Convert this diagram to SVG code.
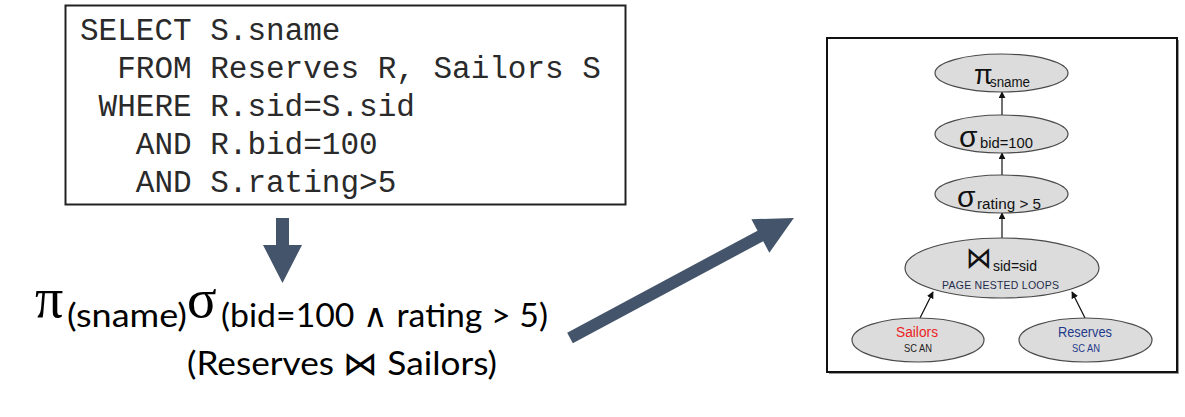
<svg xmlns="http://www.w3.org/2000/svg" width="1185" height="417" viewBox="0 0 1185 417">
<defs>
<style>
.sql{font-family:"Liberation Mono","Courier New",monospace;font-size:31px;fill:#2a2a2a}
.ra{font-family:Lato,"DejaVu Sans",sans-serif;font-size:33px;fill:#000}
.greek{font-family:"Liberation Serif","DejaVu Serif",serif;fill:#000}
.node{fill:#dcdcdc;stroke:#4a4a4a;stroke-width:1.2}
.nt{font-family:"Liberation Sans",Arial,sans-serif}
.big{fill:#44546a}
.edge{stroke:#111;stroke-width:1.2;fill:none;marker-end:url(#ah)}
</style>
<marker id="ah" viewBox="0 0 10 10" refX="9" refY="5" markerWidth="7" markerHeight="7" markerUnits="userSpaceOnUse" orient="auto">
<path d="M0,0 L10,5 L0,10 Z" fill="#111"/>
</marker>
</defs>
<rect width="1185" height="417" fill="#fff"/>

<g id="sql-box">
<rect x="65.5" y="5.5" width="560" height="199" fill="#fff" stroke="#222" stroke-width="2"/>
<text class="sql" x="80" y="40">SELECT S.sname</text>
<text class="sql" x="117.2" y="78">FROM Reserves R, Sailors S</text>
<text class="sql" x="98.6" y="116">WHERE R.sid=S.sid</text>
<text class="sql" x="135.8" y="154">AND R.bid=100</text>
<text class="sql" x="135.8" y="192">AND S.rating&gt;5</text>
</g>

<g id="algebra">
<text class="greek" x="35" y="317" font-size="56">π</text>
<text class="ra" x="67" y="327" textLength="120" lengthAdjust="spacingAndGlyphs">(sname)</text>
<text class="greek" x="187" y="317" font-size="55">σ</text>
<text class="ra" x="221" y="327" textLength="327" lengthAdjust="spacingAndGlyphs">(bid=100 ∧ rating &gt; 5)</text>
<text class="ra" x="187" y="375" textLength="310" lengthAdjust="spacingAndGlyphs">(Reserves ⋈ Sailors)</text>
</g>

<g id="flow-arrows">
<polygon class="big" points="276,218 289,218 289,245 302,245 282.5,283 263,245 276,245"/>
<polygon class="big" transform="translate(570,338) rotate(-28.2)" points="0,-6 216,-6 216,-19 254,0 216,19 216,6 0,6"/>
</g>

<g id="plan-panel">
<rect x="829" y="40" width="350" height="334" fill="#9a9a9a"/>
<rect x="827" y="38" width="350" height="334" fill="#fff" stroke="#111" stroke-width="2"/>
</g>

<g id="connectors">
<line class="edge" x1="1002" y1="115" x2="1002" y2="92"/>
<line class="edge" x1="1002" y1="175" x2="1002" y2="153"/>
<line class="edge" x1="1002" y1="238" x2="1002" y2="213"/>
<line class="edge" x1="920" y1="318" x2="933" y2="292"/>
<line class="edge" x1="1085" y1="318" x2="1072" y2="292"/>
</g>

<g id="node-project">
<ellipse class="node" cx="1001.5" cy="73" rx="66.5" ry="19"/>
<text class="nt" x="974" y="84" font-size="27" style="fill:#111">π</text>
<text class="nt" x="990" y="87" font-size="14" style="fill:#111" textLength="40" lengthAdjust="spacingAndGlyphs">sname</text>
</g>

<g id="node-select-bid">
<ellipse class="node" cx="1001.5" cy="134" rx="66.5" ry="19"/>
<text class="nt" x="959" y="147" font-size="30" style="fill:#111">σ</text>
<text class="nt" x="980" y="148" font-size="14" style="fill:#111" textLength="53" lengthAdjust="spacingAndGlyphs">bid=100</text>
</g>

<g id="node-select-rating">
<ellipse class="node" cx="1001.5" cy="194" rx="66.5" ry="19"/>
<text class="nt" x="957" y="207" font-size="30" style="fill:#111">σ</text>
<text class="nt" x="977" y="209" font-size="14" style="fill:#111" textLength="64" lengthAdjust="spacingAndGlyphs">rating &gt; 5</text>
</g>

<g id="node-join">
<ellipse class="node" cx="1002" cy="268" rx="97" ry="30"/>
<text x="966" y="268" font-family="'DejaVu Sans',sans-serif" font-size="30" style="fill:#111" textLength="26" lengthAdjust="spacingAndGlyphs">⋈</text>
<text class="nt" x="993" y="271" font-size="15" style="fill:#111" textLength="44" lengthAdjust="spacingAndGlyphs">sid=sid</text>
<text class="nt" x="942" y="289" font-size="10.5" style="fill:#1f2d4d" textLength="117" lengthAdjust="spacing">PAGE NESTED LOOPS</text>
</g>

<g id="node-sailors">
<ellipse class="node" cx="918" cy="340" rx="66" ry="22"/>
<text class="nt" x="896" y="337" font-size="14" style="fill:#ee1c25" textLength="42" lengthAdjust="spacingAndGlyphs">Sailors</text>
<text class="nt" x="904" y="352" font-size="10.5" style="fill:#222" textLength="28" lengthAdjust="spacingAndGlyphs">SC AN</text>
</g>

<g id="node-reserves">
<ellipse class="node" cx="1085.5" cy="340" rx="66.5" ry="22"/>
<text class="nt" x="1058" y="337" font-size="14" style="fill:#1f3a8a" textLength="54" lengthAdjust="spacingAndGlyphs">Reserves</text>
<text class="nt" x="1072" y="352" font-size="10.5" style="fill:#1f3a8a" textLength="28" lengthAdjust="spacingAndGlyphs">SC AN</text>
</g>
</svg>
